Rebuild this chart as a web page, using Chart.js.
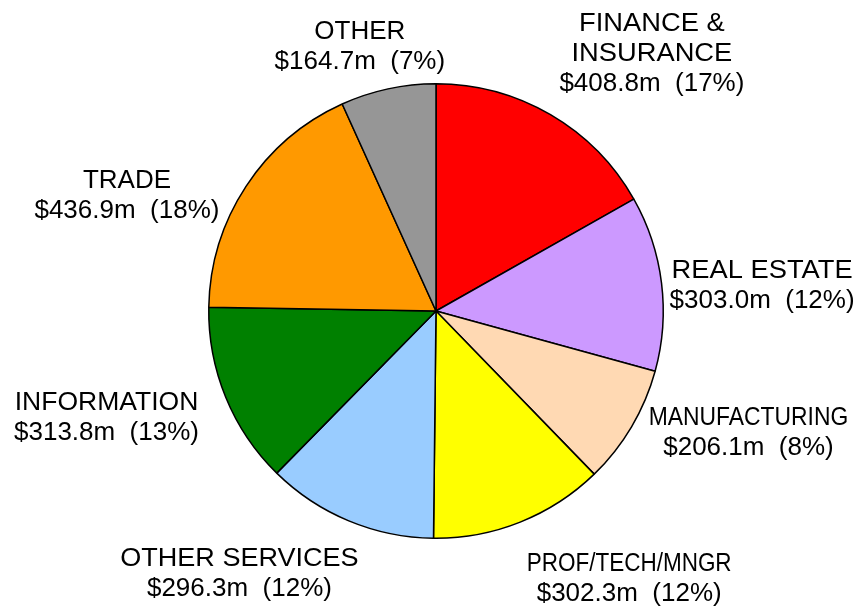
<!DOCTYPE html>
<html>
<head>
<meta charset="utf-8">
<script src="https://cdn.jsdelivr.net/npm/chart.js@4.4.0/dist/chart.umd.min.js"></script>
<style>
  html, body { margin: 0; padding: 0; background: #fff; }
  #wrap { width: 858px; height: 611px; }
</style>
</head>
<body>
<div id="wrap"><canvas id="pie" width="858" height="611"></canvas></div>
<script>
// sectors, clockwise from 12 o'clock
const sectors = ['FINANCE &\nINSURANCE', 'REAL ESTATE', 'MANUFACTURING', 'PROF/TECH/MNGR',
                 'OTHER SERVICES', 'INFORMATION', 'TRADE', 'OTHER'];
const amounts = [408.8, 303.0, 206.1, 302.3, 296.3, 313.8, 436.9, 164.7]; // $m
const colours = ['#ff0000', '#cc99ff', '#ffd9b3', '#ffff00', '#99ccff', '#008000', '#ff9900', '#969696'];

// where each label block sits, relative to the pie centre (in radii)
const labelOffset = [[0.95, -1.14], [1.435, -0.12], [1.375, 0.525], [0.85, 1.17],
                     [-0.865, 1.145], [-1.45, 0.46], [-1.36, -0.515], [-0.335, -1.17]];
// horizontal stretch/squeeze of the name line
const nameSqueeze = [1.05, 1.05, 0.88, 0.865, 1.04, 1.02, 1, 1];

const total = amounts.reduce((a, b) => a + b, 0);

const labelPlugin = {
  id: 'sectorLabels',
  afterDatasetsDraw(chart) {
    const ctx = chart.ctx;
    const arcs = chart.getDatasetMeta(0).data;
    const cx = arcs[0].x, cy = arcs[0].y, r = arcs[0].outerRadius;
    const size = 26, lh = 30;
    ctx.save();
    ctx.fillStyle = '#000';
    ctx.textAlign = 'center';
    ctx.textBaseline = 'alphabetic';
    ctx.font = size + 'px "Liberation Sans", Arial, sans-serif';
    sectors.forEach((name, i) => {
      const pct = Math.round(amounts[i] / total * 100);
      const lines = name.split('\n');
      lines.push('$' + amounts[i].toFixed(1) + 'm  (' + pct + '%)');
      const bx = cx + labelOffset[i][0] * r;
      const by = cy + labelOffset[i][1] * r;
      const top = by - (lines.length - 1) * lh / 2;
      lines.forEach((t, j) => {
        const y = top + j * lh + size * 0.358;
        const sq = j < lines.length - 1 ? nameSqueeze[i] : 1;
        ctx.save();
        ctx.translate(bx, y);
        ctx.scale(sq, 1);
        ctx.fillText(t, 0, 0);
        ctx.restore();
      });
    });
    ctx.restore();
  }
};

new Chart(document.getElementById('pie'), {
  type: 'pie',
  data: {
    labels: sectors,
    datasets: [{
      data: amounts,
      backgroundColor: colours,
      borderColor: '#000',
      borderWidth: 1.5
    }]
  },
  options: {
    responsive: false,
    animation: false,
    layout: { padding: { top: 83, bottom: 72, left: 14, right: 0 } },
    plugins: {
      legend: { display: false },
      tooltip: { enabled: false }
    }
  },
  plugins: [labelPlugin]
});
</script>
</body>
</html>
